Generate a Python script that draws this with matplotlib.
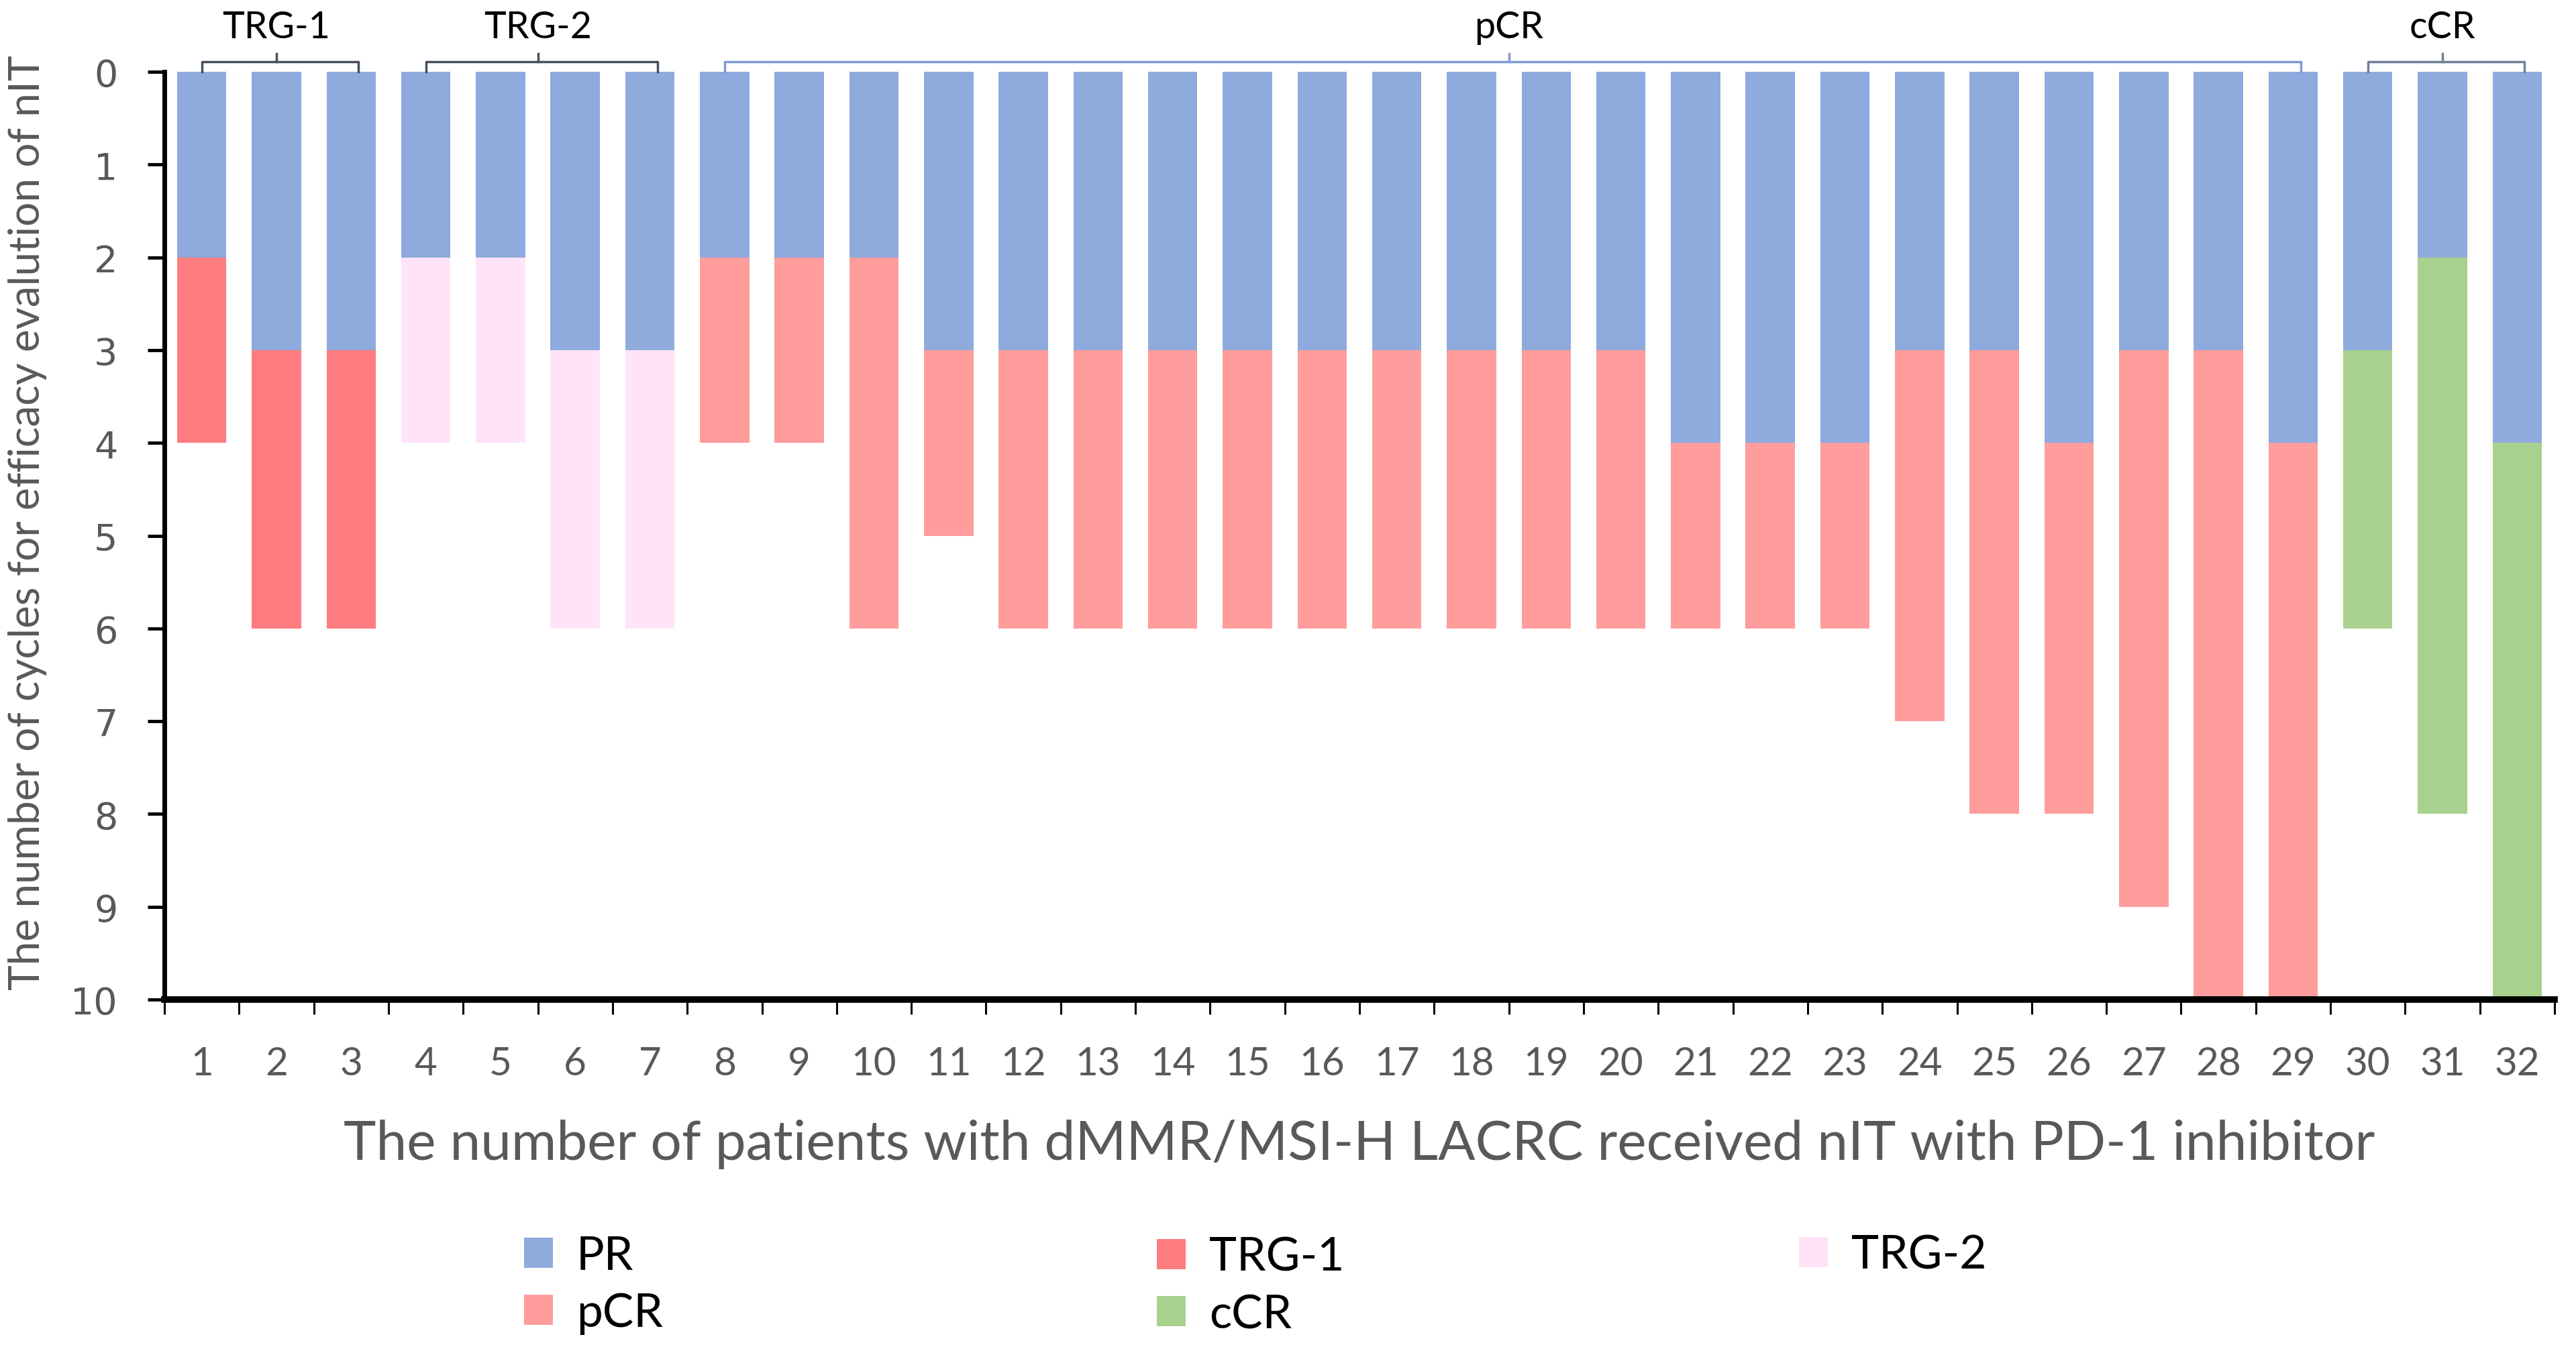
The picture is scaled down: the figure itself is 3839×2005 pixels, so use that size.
import matplotlib
matplotlib.use("Agg")
import matplotlib.pyplot as plt
import matplotlib.transforms as mtransforms
from matplotlib.patches import Patch
import numpy as np

# ---- data ----
patients = list(range(1, 33))
pr_cycles = [2, 3, 3, 2, 2, 3, 3, 2, 2, 2, 3, 3, 3, 3, 3, 3, 3, 3, 3, 3,
             4, 4, 4, 3, 3, 4, 3, 3, 4, 3, 2, 4]
total_cycles = [4, 6, 6, 4, 4, 6, 6, 4, 4, 6, 5, 6, 6, 6, 6, 6, 6, 6, 6, 6,
                6, 6, 6, 7, 8, 8, 9, 10, 10, 6, 8, 10]
outcome = ['TRG-1'] * 3 + ['TRG-2'] * 4 + ['pCR'] * 22 + ['cCR'] * 3
group_labels = ['TRG-1', 'TRG-2', 'pCR', 'cCR']
y_ticks = list(range(0, 11))

colors = {'PR': '#8FAADC', 'TRG-1': '#FF7C80', 'TRG-2': '#FFE4F7',
          'pCR': '#FF9C9C', 'cCR': '#A9D18E'}
bracket_colors = {'TRG-1': '#44505F', 'TRG-2': '#44505F',
                  'pCR': '#7F9BD6', 'cCR': '#6F8099'}

W, H = 3839, 2006
fig = plt.figure(figsize=(W / 100, H / 100), dpi=100)
ax = fig.add_axes([245 / W, 1 - 1491 / H, (3807 - 245) / W, (1491 - 108) / H])

x = np.array(patients)
pr = np.array(pr_cycles)
tot = np.array(total_cycles)
second = tot - pr
bw = 0.66
ax.bar(x, pr, width=bw, bottom=0, color=colors['PR'], linewidth=0, zorder=2)
ax.bar(x, second, width=bw, bottom=pr, color=[colors[o] for o in outcome],
       linewidth=0, zorder=2)

ax.set_xlim(0.5, 32.5)
ax.set_ylim(10, 0)

# spines
for s in ['top', 'right']:
    ax.spines[s].set_visible(False)
ax.spines['left'].set_linewidth(5)
ax.spines['bottom'].set_linewidth(7)

# y ticks
ax.set_yticks(y_ticks)
ax.tick_params(axis='y', direction='out', length=18, width=3.5, pad=32,
               labelsize=40, labelcolor='#595959', color='black')
for lab in ax.get_yticklabels():
    lab.set_family('DejaVu Sans')

# x ticks: major at boundaries (no labels), minor at centers with labels
ax.set_xticks(np.arange(0.5, 33, 1.0))
ax.set_xticklabels([])
ax.set_xticks(x, minor=True)
ax.set_xticklabels([str(p) for p in patients], minor=True)
ax.tick_params(axis='x', which='major', direction='out', length=16, width=2.2,
               color='black')
ax.tick_params(axis='x', which='minor', length=0, pad=50, labelsize=42,
               labelcolor='#595959')
for lab in ax.get_xticklabels(minor=True):
    lab.set_family('Lato')

ax.set_xlabel('The number of patients with dMMR/MSI-H LACRC received nIT with PD-1 inhibitor',
              fontsize=59, color='#595959', family='Lato', labelpad=40)
ax.set_ylabel('The number of cycles for efficacy evalution of nIT',
              fontsize=46, color='#595959', family='Lato')
ax.yaxis.set_label_coords((70 - 245) / (3807 - 245), 0.515)

# brackets above groups
trans = mtransforms.blended_transform_factory(ax.transData, ax.transAxes)
for g in group_labels:
    idx = [p for p, o in zip(patients, outcome) if o == g]
    x0, x1 = idx[0], idx[-1] + 0.1
    xm = (idx[0] + idx[-1]) / 2
    yl, yb, yt = 1.011, 1.0, 1.0195
    c = bracket_colors[g]
    ax.plot([x0, x0, x1, x1], [yb, yl, yl, yb], transform=trans, color=c,
            lw=2.5, clip_on=False, solid_joinstyle='round')
    ax.plot([xm, xm], [yl, yt], transform=trans, color=c, lw=2.5, clip_on=False)
    ax.text(xm, 1.048, g, transform=trans, ha='center', va='center',
            fontsize=40, family='Lato', color='black')

# legend (three columns placed in figure)
def mk(label):
    return Patch(facecolor=colors[label], edgecolor='none', label=label)

leg_kw = dict(frameon=False, handlelength=0.62, handleheight=0.62,
              handletextpad=0.5, labelspacing=0.32, borderpad=0,
              borderaxespad=0, prop={'family': 'Lato', 'size': 50})
cols = [(['PR', 'pCR'], 781, 1916), (['TRG-1', 'cCR'], 1724, 1918),
        (['TRG-2'], 2681, 1872)]
for labels, px, py in cols:
    leg = fig.legend(handles=[mk(l) for l in labels], loc='center left',
                     bbox_to_anchor=(px / W, 1 - py / H), **leg_kw)
    for t in leg.get_texts():
        t.set_color('black')

fig.savefig('out.png', dpi=100)
